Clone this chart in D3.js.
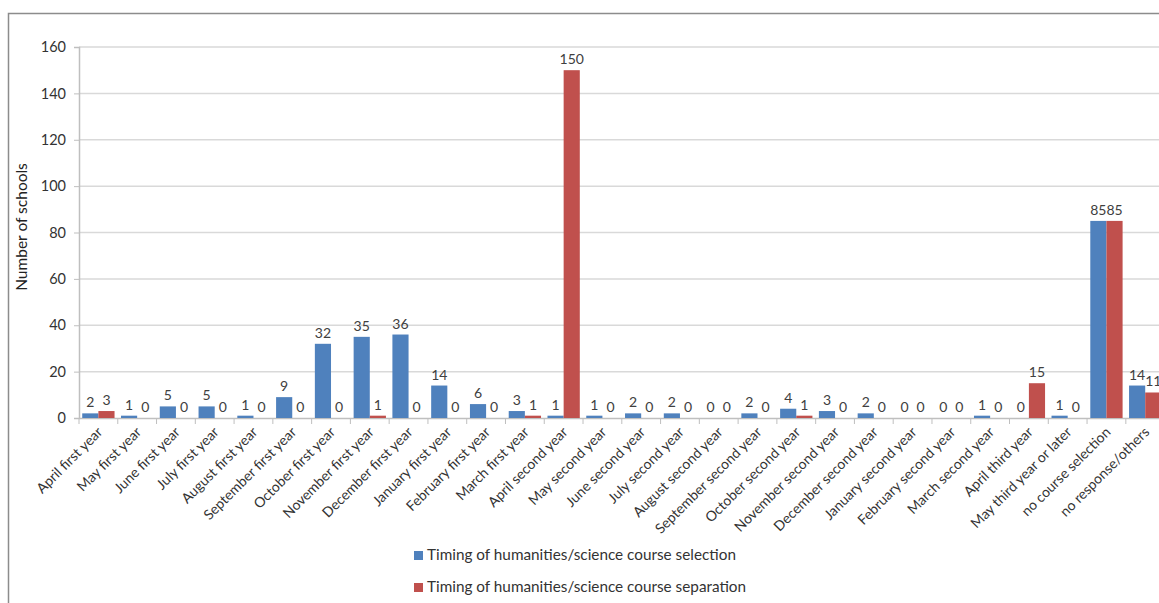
<!DOCTYPE html>
<html><head><meta charset="utf-8">
<script src="https://cdn.jsdelivr.net/npm/d3@7"></script>
<style>body{margin:0;background:#fff;overflow:hidden}</style>
</head><body>
<svg id="c" width="1159" height="603"></svg>
<script>
const categories = ["April first year","May first year","June first year","July first year","August first year","September first year","October first year","November first year","December first year","January first year","February first year","March first year","April second year","May second year","June second year","July second year","August second year","September second year","October second year","November second year","December second year","January second year","February second year","March second year","April third year","May third year or later","no course selection","no response/others"];
const selectionValues = [2,1,5,5,1,9,32,35,36,14,6,3,1,1,2,2,0,2,4,3,2,0,0,1,0,1,85,14];
const separationValues = [3,0,0,0,0,0,0,1,0,0,0,1,150,0,0,0,0,0,1,0,0,0,0,0,15,0,85,11];
const seriesNames = ["Timing of humanities/science course selection","Timing of humanities/science course separation"];
const yTicks = [0,20,40,60,80,100,120,140,160];

const colors = ["#4F81BD","#C0504D"];
const font = "Lato, 'Open Sans', sans-serif";
const svg = d3.select("#c");

// outer frame
svg.append("rect").attr("x",8.5).attr("y",13.5).attr("width",1200).attr("height",640)
  .attr("fill","none").attr("stroke","#8c8c8c").attr("stroke-width",1.5);

const x0 = d3.scaleBand().domain(categories).range([79, 1164.6]).padding(0);
const x1 = d3.scaleBand().domain([0,1]).range([0, x0.bandwidth()]).paddingOuter(0.2).paddingInner(0);
const y = d3.scaleLinear().domain([0,160]).range([418,47]);

// gridlines
svg.append("g").selectAll("line").data(yTicks.filter(d=>d>0)).join("line")
  .attr("x1",79).attr("x2",1165).attr("y1",d=>y(d)).attr("y2",d=>y(d))
  .attr("stroke","#d9d9d9").attr("stroke-width",1.5);

// y axis
const ya = svg.append("g").attr("transform","translate(79,0)")
  .call(d3.axisLeft(y).tickValues(yTicks).tickSize(5).tickPadding(8));
ya.select(".domain").attr("stroke","#bfbfbf").attr("stroke-width",1.5);
ya.selectAll(".tick line").attr("stroke","#bfbfbf");
ya.selectAll("text").attr("font-family",font).attr("font-size",14.5).attr("fill","#333");

// x axis
const xa = svg.append("g").attr("transform","translate(0,418)")
  .call(d3.axisBottom(x0).tickSize(0).tickFormat(""));
xa.select(".domain").attr("stroke","#bfbfbf").attr("stroke-width",1.5);
// tick marks at band boundaries
svg.append("g").selectAll("line").data(d3.range(categories.length+1)).join("line")
  .attr("x1",i=>79+i*x0.bandwidth()).attr("x2",i=>79+i*x0.bandwidth())
  .attr("y1",418).attr("y2",424).attr("stroke","#bfbfbf");
// x labels
svg.append("g").selectAll("text").data(categories).join("text")
  .attr("transform",d=>`translate(${x0(d)+x0.bandwidth()/2+5},${433}) rotate(-45)`)
  .attr("text-anchor","end").attr("font-family",font).attr("font-size",14).attr("fill","#333")
  .text(d=>d);

// bars
const series = [selectionValues, separationValues];
series.forEach((vals,s)=>{
  const g = svg.append("g");
  g.selectAll("rect").data(vals).join("rect")
    .attr("x",(d,i)=>x0(categories[i])+x1(s))
    .attr("y",d=>y(d)).attr("width",x1.bandwidth()).attr("height",d=>y(0)-y(d))
    .attr("fill",colors[s]);
  g.selectAll("text").data(vals).join("text")
    .attr("x",(d,i)=>x0(categories[i])+x1(s)+x1.bandwidth()/2)
    .attr("y",d=>y(d)-6).attr("text-anchor","middle")
    .attr("font-family",font).attr("font-size",14).attr("fill","#404040")
    .text(d=>d);
});

// y title
svg.append("text").attr("transform","translate(27,227) rotate(-90)")
  .attr("text-anchor","middle").attr("font-family",font).attr("font-size",15.5).attr("fill","#222")
  .text("Number of schools");

// legend
seriesNames.forEach((n,i)=>{
  const yy = 555 + i*32;
  svg.append("rect").attr("x",414).attr("y",yy-4).attr("width",9).attr("height",9).attr("fill",colors[i]);
  svg.append("text").attr("x",427).attr("y",yy+5).attr("font-family",font).attr("font-size",15.3)
    .attr("fill","#333").text(n);
});
</script>
</body></html>
